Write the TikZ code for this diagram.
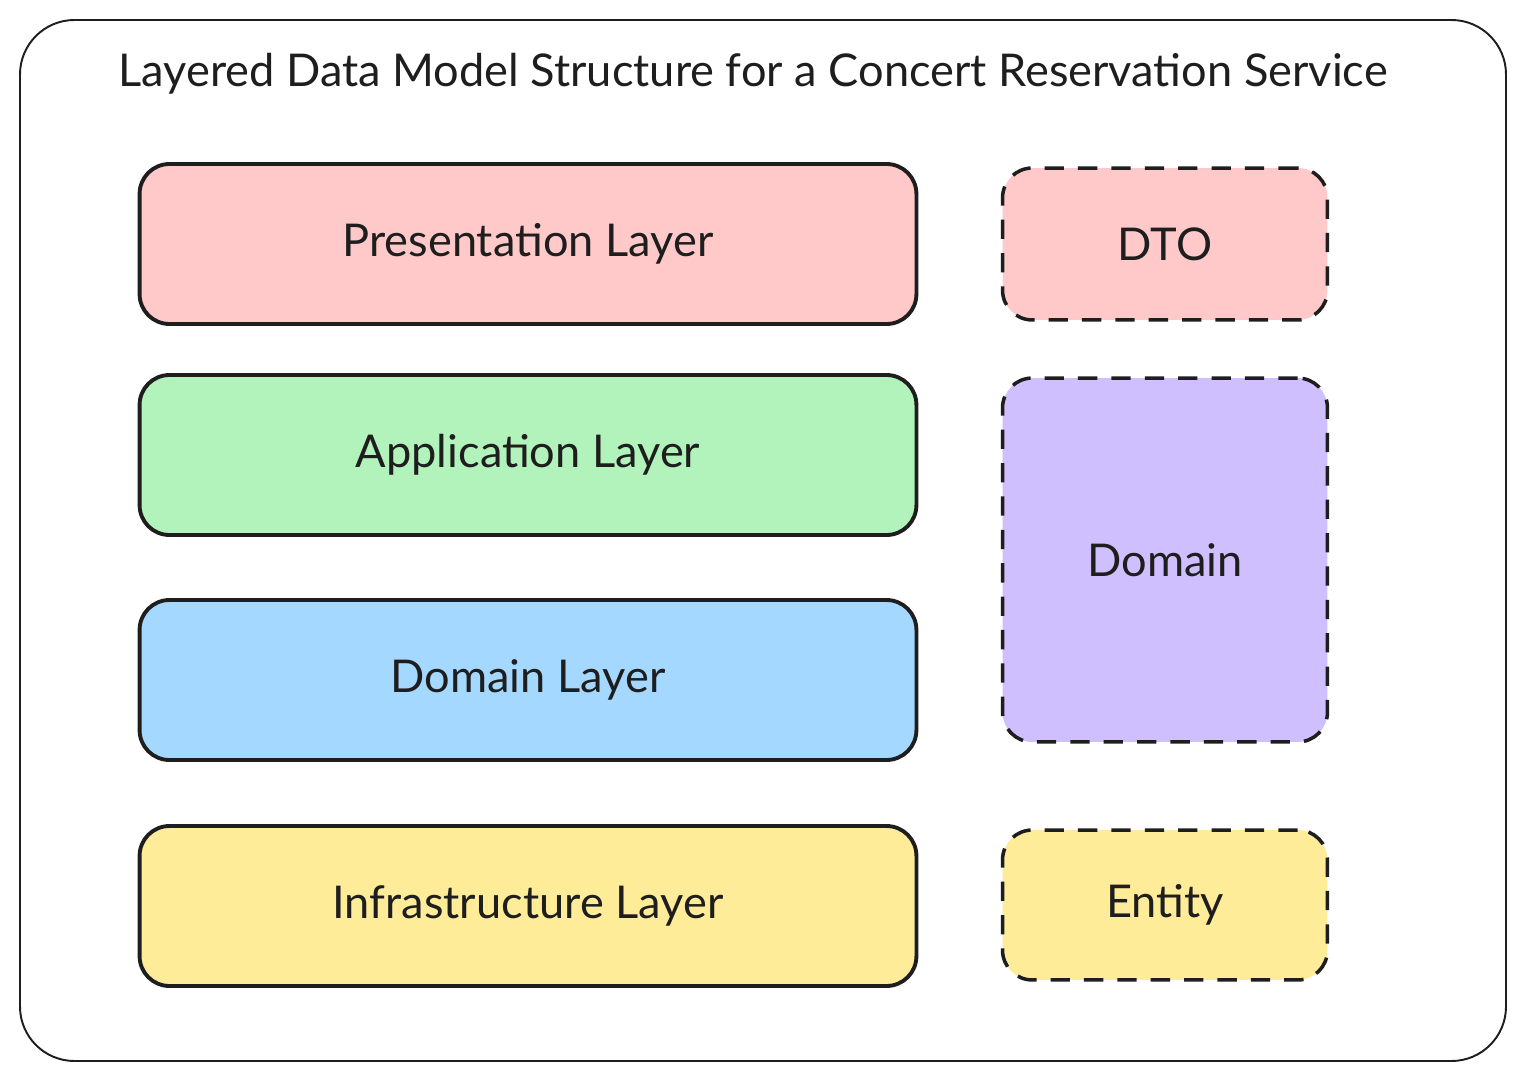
\documentclass[tikz,border=0pt]{standalone}
\usepackage{fontspec}
\setmainfont{Lato}
\usepackage{xcolor}
\usepackage{tikz}
\usetikzlibrary{positioning}
\definecolor{ModelInk}{HTML}{1E1E1E}
\definecolor{ModelPink}{HTML}{FFC9C9}
\definecolor{ModelGreen}{HTML}{B2F2BB}
\definecolor{ModelBlue}{HTML}{A5D8FF}
\definecolor{ModelYellow}{HTML}{FFEC99}
\definecolor{ModelPurple}{HTML}{D0BFFF}

\begin{document}
\begin{tikzpicture}[
  x=0.02cm,
  y=-0.02cm,
  every node/.style={font=\fontsize{25.7}{30}\selectfont, text=ModelInk},
  layer/.style={draw=ModelInk, line width=2.2pt, rounded corners=17pt,
    minimum width=15.54cm, minimum height=3.2cm},
  model/.style={draw=ModelInk, line width=2pt, dash pattern=on 11pt off 8pt,
    rounded corners=17pt, minimum width=6.5cm}
]
\useasboundingbox (0,0) rectangle (1525,1081);
\draw[ModelInk, line width=1.1pt, rounded corners=31pt] (20,20) rectangle (1506,1061);
\node (title) at (753,74) {Layered Data Model Structure for a Concert Reservation Service};

% layers
\node[layer, fill=ModelPink] (presentation) at (528,244) {Presentation Layer};
\node[layer, fill=ModelGreen] (application) at (528,455) {Application Layer};
\node[layer, fill=ModelBlue] (domainlayer) at (528,680) {Domain Layer};
\node[layer, fill=ModelYellow] (infra) at (528,906) {Infrastructure Layer};

% data models
\node[model, fill=ModelPink, minimum height=3.04cm] (dto) at (1165,244) {DTO};
\node[model, fill=ModelPurple, minimum height=7.28cm] (domain) at (1165,560) {Domain};
\node[model, fill=ModelYellow, minimum height=3.0cm] (entity) at (1165,905) {Entity};
\end{tikzpicture}
\end{document}
